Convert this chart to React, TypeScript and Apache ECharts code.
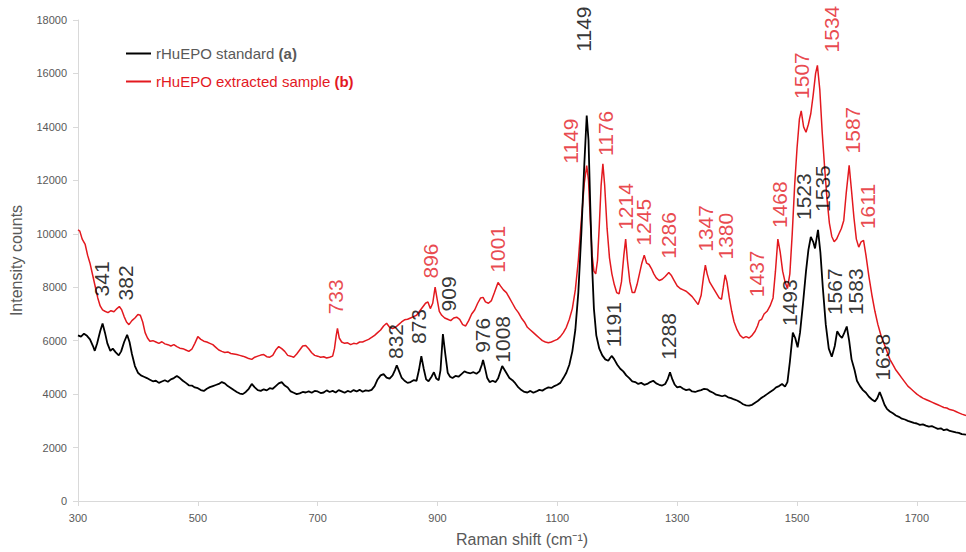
import React, { useEffect, useRef } from "react";
import * as echarts from "echarts";

// Raman spectrum of the rHuEPO standard: [shift (cm⁻¹), intensity counts]
const standardSpectrum: [number, number][] = [
  [300, 6200], [305, 6150], [310, 6260], [315, 6180], [320, 6050], [325, 5800], [328, 5620], [332, 5900],
  [337, 6350], [341, 6640], [345, 6300], [349, 5900], [354, 5620], [358, 5700], [363, 5560], [368, 5450],
  [372, 5600], [377, 5950], [382, 6220], [386, 5950], [390, 5500], [395, 5050], [400, 4800], [405, 4700],
  [410, 4650], [415, 4600], [420, 4540], [425, 4480], [430, 4500], [435, 4420], [440, 4470], [445, 4520],
  [450, 4460], [455, 4550], [460, 4600], [465, 4680], [470, 4600], [475, 4500], [480, 4420], [485, 4330],
  [490, 4320], [495, 4250], [500, 4220], [505, 4150], [510, 4120], [515, 4200], [520, 4260], [525, 4300],
  [530, 4340], [535, 4380], [540, 4450], [545, 4400], [550, 4300], [555, 4230], [560, 4150], [565, 4080],
  [570, 4020], [575, 4000], [580, 4080], [585, 4200], [590, 4380], [595, 4250], [600, 4150], [605, 4120],
  [610, 4180], [615, 4140], [620, 4220], [625, 4200], [630, 4300], [635, 4400], [640, 4450], [645, 4320],
  [650, 4250], [655, 4100], [660, 4050], [665, 4000], [670, 4030], [675, 4080], [680, 4060], [685, 4100],
  [690, 4050], [695, 4120], [700, 4100], [705, 4040], [710, 4060], [715, 4140], [720, 4080], [725, 4120],
  [730, 4060], [735, 4150], [740, 4100], [745, 4050], [750, 4120], [755, 4080], [760, 4150], [765, 4100],
  [770, 4160], [775, 4090], [780, 4140], [785, 4120], [790, 4160], [795, 4300], [800, 4550], [805, 4700],
  [810, 4750], [815, 4620], [820, 4580], [825, 4700], [829, 4900], [832, 5080], [836, 4850], [840, 4620],
  [845, 4500], [850, 4420], [855, 4450], [860, 4520], [865, 4500], [869, 4900], [873, 5420], [877, 4950],
  [881, 4550], [885, 4480], [890, 4650], [894, 4820], [898, 4580], [902, 4520], [905, 4900], [909, 6250],
  [913, 5500], [917, 4800], [921, 4650], [925, 4600], [930, 4680], [935, 4650], [940, 4750], [945, 4850],
  [950, 4800], [955, 4780], [960, 4820], [965, 4760], [970, 4850], [974, 5100], [976, 5280], [979, 5000],
  [983, 4600], [987, 4450], [992, 4500], [997, 4450], [1001, 4580], [1005, 4850], [1008, 5050], [1012, 4900],
  [1016, 4750], [1020, 4600], [1025, 4520], [1030, 4400], [1035, 4250], [1040, 4150], [1045, 4080], [1050, 4060],
  [1055, 4120], [1060, 4050], [1065, 4100], [1070, 4160], [1075, 4130], [1080, 4200], [1085, 4250], [1090, 4230],
  [1095, 4300], [1100, 4350], [1105, 4420], [1110, 4600], [1115, 4800], [1120, 5100], [1125, 5600], [1130, 6400],
  [1135, 7800], [1140, 10000], [1145, 12600], [1149, 14420], [1152, 13500], [1155, 11000], [1158, 8800], [1161, 7200],
  [1165, 6200], [1170, 5700], [1175, 5450], [1180, 5300], [1185, 5250], [1188, 5350], [1191, 5430], [1195, 5300],
  [1200, 5100], [1205, 4950], [1210, 4850], [1215, 4700], [1220, 4600], [1225, 4480], [1230, 4450], [1235, 4380],
  [1240, 4420], [1245, 4350], [1250, 4380], [1255, 4450], [1260, 4500], [1265, 4400], [1270, 4350], [1275, 4320],
  [1280, 4380], [1284, 4550], [1288, 4820], [1292, 4550], [1296, 4350], [1300, 4250], [1305, 4280], [1310, 4200],
  [1315, 4150], [1320, 4180], [1325, 4100], [1330, 4080], [1335, 4120], [1340, 4150], [1345, 4200], [1350, 4180],
  [1355, 4100], [1360, 4050], [1365, 3980], [1370, 3950], [1375, 3920], [1380, 3950], [1385, 3880], [1390, 3850],
  [1395, 3800], [1400, 3760], [1405, 3700], [1410, 3620], [1415, 3580], [1420, 3570], [1425, 3600], [1430, 3680],
  [1435, 3750], [1440, 3850], [1445, 3920], [1450, 4000], [1455, 4080], [1460, 4150], [1465, 4250], [1470, 4300],
  [1475, 4380], [1480, 4280], [1484, 4450], [1488, 5200], [1493, 6300], [1497, 6100], [1501, 5750], [1505, 6300],
  [1510, 7400], [1515, 8600], [1519, 9400], [1523, 9880], [1527, 9700], [1530, 9450], [1535, 10150], [1539, 9300],
  [1543, 8000], [1548, 6600], [1553, 5700], [1558, 5400], [1563, 5800], [1567, 6350], [1571, 6200], [1575, 6100],
  [1579, 6300], [1583, 6530], [1587, 6000], [1591, 5300], [1596, 4900], [1600, 4500], [1605, 4300], [1610, 4150],
  [1615, 4050], [1620, 3900], [1625, 3800], [1630, 3720], [1634, 3850], [1638, 4080], [1642, 3850], [1646, 3600],
  [1650, 3450], [1655, 3350], [1660, 3280], [1665, 3200], [1670, 3150], [1675, 3080], [1680, 3050], [1685, 3000],
  [1690, 2960], [1695, 2920], [1700, 2900], [1705, 2850], [1710, 2870], [1715, 2820], [1720, 2780], [1725, 2800],
  [1730, 2750], [1735, 2700], [1740, 2720], [1745, 2650], [1750, 2680], [1755, 2620], [1760, 2600], [1765, 2570],
  [1770, 2550], [1775, 2500], [1782, 2480],
];

// Raman spectrum of the extracted rHuEPO sample: [shift (cm⁻¹), intensity counts]
const sampleSpectrum: [number, number][] = [
  [300, 10150], [303, 10100], [307, 9800], [312, 9600], [316, 9200], [320, 8900], [325, 8400], [329, 8000],
  [333, 7600], [337, 7300], [341, 7150], [345, 7100], [350, 7050], [355, 7120], [360, 7080], [365, 7200],
  [369, 7280], [373, 7150], [377, 6900], [381, 6700], [385, 6600], [390, 6750], [395, 6850], [400, 6980],
  [404, 6950], [408, 6700], [412, 6300], [416, 6100], [420, 5980], [425, 6000], [430, 5950], [435, 5900],
  [440, 5960], [445, 5880], [450, 5850], [455, 5800], [460, 5850], [465, 5780], [470, 5720], [475, 5700],
  [480, 5650], [485, 5600], [490, 5680], [495, 5900], [500, 6150], [505, 6050], [510, 5980], [515, 5950],
  [520, 5900], [525, 5850], [530, 5750], [535, 5650], [540, 5600], [545, 5560], [550, 5580], [555, 5520],
  [560, 5500], [565, 5480], [570, 5450], [575, 5420], [580, 5380], [585, 5330], [590, 5300], [595, 5380],
  [600, 5420], [605, 5460], [610, 5480], [615, 5400], [620, 5380], [625, 5450], [630, 5650], [635, 5780],
  [640, 5700], [645, 5600], [650, 5450], [655, 5420], [660, 5380], [665, 5500], [670, 5650], [675, 5800],
  [680, 5820], [685, 5700], [690, 5550], [695, 5450], [700, 5420], [705, 5380], [710, 5400], [715, 5350],
  [720, 5380], [725, 5420], [728, 5700], [731, 6200], [733, 6460], [736, 6100], [740, 5950], [745, 5900],
  [750, 5920], [755, 5850], [760, 5900], [765, 5880], [770, 5950], [775, 5950], [780, 6000], [785, 6050],
  [790, 6120], [795, 6200], [800, 6300], [805, 6400], [810, 6550], [815, 6650], [820, 6500], [825, 6450],
  [830, 6500], [835, 6600], [840, 6700], [845, 6780], [850, 6800], [855, 6850], [860, 6900], [865, 6950],
  [870, 7100], [875, 7250], [880, 7400], [884, 7450], [888, 7200], [892, 7400], [896, 8000], [899, 7600],
  [903, 7100], [907, 6950], [912, 6850], [917, 6800], [922, 6750], [927, 6850], [932, 6880], [937, 6800],
  [942, 6600], [947, 6550], [952, 6750], [957, 7000], [962, 7150], [967, 7400], [972, 7600], [976, 7620],
  [980, 7450], [985, 7400], [990, 7500], [995, 7800], [1001, 8180], [1005, 8050], [1010, 7900], [1015, 7800],
  [1020, 7600], [1025, 7400], [1030, 7200], [1035, 7050], [1040, 6850], [1045, 6700], [1050, 6500], [1055, 6400],
  [1060, 6300], [1065, 6200], [1070, 6100], [1075, 6000], [1080, 5950], [1085, 5920], [1090, 5950], [1095, 6000],
  [1100, 6050], [1105, 6150], [1110, 6300], [1115, 6500], [1120, 6800], [1125, 7200], [1130, 7900], [1135, 9000],
  [1140, 10500], [1145, 11900], [1149, 12550], [1152, 12000], [1155, 10500], [1158, 9200], [1161, 8600], [1164, 8500],
  [1167, 9000], [1170, 10300], [1173, 11800], [1176, 12620], [1179, 11800], [1183, 10200], [1187, 9100], [1191, 8500],
  [1195, 8100], [1199, 7800], [1203, 7750], [1207, 8200], [1211, 9200], [1214, 9800], [1217, 9000], [1221, 8200],
  [1225, 7800], [1229, 7800], [1233, 8100], [1237, 8500], [1241, 8900], [1245, 9200], [1249, 8900], [1253, 8850],
  [1257, 8700], [1261, 8500], [1265, 8350], [1270, 8250], [1275, 8300], [1280, 8400], [1286, 8550], [1290, 8450],
  [1295, 8250], [1300, 8050], [1305, 7950], [1310, 7900], [1315, 7850], [1320, 7750], [1325, 7650], [1330, 7500],
  [1335, 7350], [1340, 7700], [1344, 8400], [1347, 8830], [1350, 8500], [1354, 8200], [1358, 8050], [1362, 7900],
  [1366, 7750], [1370, 7600], [1374, 7550], [1377, 8000], [1380, 8460], [1383, 8200], [1387, 7600], [1391, 7100],
  [1395, 6700], [1400, 6400], [1405, 6200], [1410, 6100], [1415, 6150], [1420, 6100], [1425, 6200], [1430, 6350],
  [1434, 6550], [1437, 6750], [1441, 6800], [1445, 7000], [1450, 7100], [1455, 7300], [1460, 7600], [1464, 8600],
  [1468, 9800], [1472, 9300], [1476, 8600], [1480, 8200], [1484, 7950], [1488, 8500], [1492, 10000], [1496, 11800],
  [1500, 13200], [1504, 14300], [1507, 14600], [1511, 14000], [1515, 13800], [1519, 14100], [1523, 14500], [1527, 15200],
  [1531, 16000], [1534, 16300], [1538, 15400], [1542, 13800], [1546, 12500], [1550, 11300], [1554, 10400], [1558, 9900],
  [1562, 9700], [1566, 9800], [1570, 10000], [1574, 10200], [1578, 10500], [1582, 11500], [1587, 12560], [1591, 11600],
  [1595, 10600], [1599, 9800], [1603, 9500], [1607, 9700], [1611, 9750], [1615, 9200], [1620, 8400], [1625, 7700],
  [1630, 7100], [1635, 6600], [1640, 6200], [1645, 5900], [1650, 5600], [1655, 5300], [1660, 5100], [1665, 4900],
  [1670, 4750], [1675, 4600], [1680, 4450], [1685, 4300], [1690, 4200], [1695, 4100], [1700, 4000], [1705, 3920],
  [1710, 3850], [1715, 3800], [1720, 3750], [1725, 3700], [1730, 3650], [1735, 3600], [1740, 3550], [1745, 3500],
  [1750, 3480], [1755, 3420], [1760, 3400], [1765, 3350], [1770, 3300], [1775, 3250], [1782, 3200],
];

// Assigned band positions and where each annotation sits ([shift, counts] of the label centre)
const standardPeaks = [341, 382, 832, 873, 909, 976, 1008, 1149, 1191, 1288, 1493, 1523, 1535, 1567, 1583, 1638];
const standardLabelAt: [number, number][] = [
  [340, 8310], [380, 8160], [830, 5970], [868, 6530], [918, 7750], [975, 6200], [1008, 6050], [1143, 17660],
  [1193, 6600], [1285, 6160], [1488, 7420], [1510, 11390], [1542, 11690], [1563, 7830], [1597, 7830], [1642, 5380],
];
const samplePeaks = [733, 896, 1001, 1149, 1176, 1214, 1245, 1286, 1347, 1380, 1437, 1468, 1507, 1534, 1587, 1611];
const sampleLabelAt: [number, number][] = [
  [730, 7640], [888, 8980], [1000, 9420], [1122, 13470], [1180, 13760], [1213, 11020], [1243, 10430], [1285, 9940],
  [1347, 10200], [1380, 9910], [1433, 8500], [1470, 11090], [1508, 15920], [1558, 17660], [1592, 13880], [1618, 11020],
];

const xTicks = { min: 300, max: 1782, interval: 200 };
const yTicks = { min: 0, max: 18000, interval: 2000 };

const STANDARD_NAME = "rHuEPO standard (a)";
const SAMPLE_NAME = "rHuEPO extracted sample (b)";
const BLACK = "#000000";
const RED = "#e3191f";
const AXIS_GREY = "#d9d9d9";
const TEXT_GREY = "#595959";
const FONT = "'Liberation Sans', Arial, sans-serif";

function peakLabels(name: string, peaks: number[], at: [number, number][], color: string) {
  return {
    name,
    type: "scatter",
    silent: true,
    symbol: "circle",
    symbolSize: 0.1,
    itemStyle: { color: "transparent" },
    z: 5,
    data: peaks.map((p, i) => ({ value: at[i], peak: p })),
    label: {
      show: true,
      position: "inside",
      rotate: 90,
      align: "center",
      verticalAlign: "middle",
      color,
      fontSize: 21,
      fontFamily: FONT,
      formatter: (p: any) => String(p.data.peak),
    },
  };
}

const plainNumber = (v: number) => String(v);

export default function App() {
  const ref = useRef<HTMLDivElement>(null);

  useEffect(() => {
    if (!ref.current) return;
    const chart = echarts.init(ref.current, undefined, { renderer: "svg" });
    chart.setOption({
      animation: false,
      backgroundColor: "#ffffff",
      grid: { left: 77, right: 0, top: 20, bottom: 49 },
      legend: {
        orient: "vertical",
        left: 121,
        top: 41,
        itemGap: 13,
        itemWidth: 25,
        itemHeight: 2,
        icon: "rect",
        data: [
          { name: STANDARD_NAME, textStyle: { color: TEXT_GREY } },
          { name: SAMPLE_NAME, textStyle: { color: RED } },
        ],
        textStyle: {
          fontSize: 15,
          fontFamily: FONT,
          rich: {
            ga: { fontSize: 15, fontFamily: FONT, fontWeight: "bold", color: TEXT_GREY },
            rb: { fontSize: 15, fontFamily: FONT, fontWeight: "bold", color: RED },
          },
        },
        formatter: (name: string) =>
          name === STANDARD_NAME
            ? name.replace("(a)", "{ga|(a)}")
            : name.replace("(b)", "{rb|(b)}"),
      },
      xAxis: {
        type: "value",
        min: xTicks.min,
        max: xTicks.max,
        interval: xTicks.interval,
        name: "Raman shift (cm⁻¹)",
        nameLocation: "middle",
        nameGap: 30,
        nameTextStyle: { color: TEXT_GREY, fontSize: 16, fontFamily: FONT },
        axisLine: { show: true, lineStyle: { color: AXIS_GREY, width: 1 } },
        axisTick: { show: true, length: 5, lineStyle: { color: AXIS_GREY } },
        axisLabel: {
          color: TEXT_GREY,
          fontSize: 11,
          fontFamily: FONT,
          margin: 11,
          showMaxLabel: false,
          formatter: plainNumber,
        },
        splitLine: { show: false },
      },
      yAxis: {
        type: "value",
        min: yTicks.min,
        max: yTicks.max,
        interval: yTicks.interval,
        name: "Intensity counts",
        nameLocation: "middle",
        nameGap: 54,
        nameTextStyle: { color: TEXT_GREY, fontSize: 16, fontFamily: FONT },
        axisLine: { show: true, lineStyle: { color: AXIS_GREY, width: 1 } },
        axisTick: { show: true, length: 5, lineStyle: { color: AXIS_GREY } },
        axisLabel: { color: TEXT_GREY, fontSize: 11, fontFamily: FONT, margin: 11, formatter: plainNumber },
        splitLine: { show: false },
      },
      series: [
        {
          name: STANDARD_NAME,
          type: "line",
          data: standardSpectrum,
          showSymbol: false,
          color: BLACK,
          lineStyle: { color: BLACK, width: 1.8 },
          z: 3,
        },
        {
          name: SAMPLE_NAME,
          type: "line",
          data: sampleSpectrum,
          showSymbol: false,
          color: RED,
          lineStyle: { color: RED, width: 1.5 },
          z: 2,
        },
        peakLabels("standard peaks", standardPeaks, standardLabelAt, BLACK),
        peakLabels("sample peaks", samplePeaks, sampleLabelAt, RED),
      ],
    });
    return () => chart.dispose();
  }, []);

  return (
    <div
      ref={ref}
      style={{ position: "fixed", left: 0, top: 0, width: 966, height: 552, background: "#fff" }}
    />
  );
}
